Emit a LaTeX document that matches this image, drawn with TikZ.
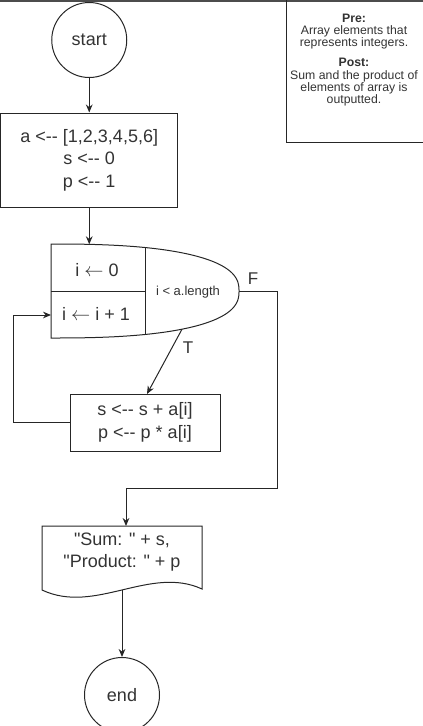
\documentclass[tikz,border=0pt]{standalone}
\usepackage{fontspec}
\newfontfamily\plainfont{Liberation Sans}
\usetikzlibrary{arrows.meta}
\begin{document}
\begin{tikzpicture}[x=0.75pt,y=-0.75pt,
  line/.style={draw=black!85, line width=0.75pt},
  arr/.style={line, -{Stealth[length=6pt,width=5pt]}},
  txt/.style={text=black!80, font=\plainfont\fontsize{13.5}{16.9}\selectfont, align=center, inner sep=0pt},
  small/.style={text=black!80, font=\plainfont\fontsize{9.75}{11}\selectfont, align=center, inner sep=0pt},
  lbl/.style={text=black!80, font=\plainfont\fontsize{12.75}{15}\selectfont, inner sep=0pt},
  notetxt/.style={text=black!80, font=\plainfont\fontsize{9.2}{9.2}\selectfont, align=center, inner sep=0pt},
  term/.style={circle, line, minimum size=56.25pt, inner sep=0pt, text=black!80, font=\plainfont\fontsize{13.5}{16.5}\selectfont},
  procbox/.style={rectangle, line, inner sep=0pt, text=black!80, font=\plainfont\fontsize{13.5}{16.9}\selectfont, align=center}
]
\useasboundingbox (0,0) rectangle (423,726);
\fill[black!70] (0,0) rectangle (423,1.6);

% note box
\node[rectangle, line, minimum width=105pt, minimum height=108pt, inner sep=0pt] (note) at (356,70) {};
\node[notetxt] (notetext) at (354,60) {\textbf{Pre:}\\Array elements that\\represents integers.\\[6pt]\textbf{Post:}\\Sum and the product of\\elements of array is\\outputted.};

% start
\node[term] (start) at (89.25,40) {start};

% init
\node[procbox, minimum width=133.1pt, minimum height=70.5pt] (init) at (89.25,160) {a <-{}- [1,2,3,4,5,6]\\s <-{}- 0\\p <-{}- 1};

% loop shape
\draw[line] (51,244) -- plot[domain=89.5:0.5, samples=100] ({51+188*pow(cos(\x),0.8)}, {291-47*pow(sin(\x),0.8)}) -- (239,291) -- plot[domain=0.5:89.5, samples=100] ({51+188*pow(cos(\x),0.8)}, {291+47*pow(sin(\x),0.8)}) -- (51,338) -- cycle;
\draw[line] (145,247.5) -- (145,334.5);
\draw[line] (51,291) -- (145,291);
\coordinate (loopin) at (89.25,244.3);
\coordinate (tip) at (239,291);
\coordinate (tstart) at (182,329.2);
\coordinate (backin) at (51,315);
\node[txt] (iinit) at (97,270) {i $\leftarrow$ 0};
\node[txt] (iinc) at (96,314) {i $\leftarrow$ i + 1};
\node[small] (cond) at (188,292) {i < a.length};

% body
\node[procbox, minimum width=112.5pt, minimum height=42.75pt] (body) at (145,422.5) {s <-{}- s + a[i]\\p <-{}- p * a[i]};
\coordinate (tend) at (147,394);

% output
\draw[line] (42,526) -- (202,526) -- (202,589) .. controls (150,565) and (95,615) .. (42,590) -- cycle;
\node[txt] (outtxt) at (122,552) {"Sum: " + s,\\"Product: " + p};
\coordinate (outin) at (126,526);
\coordinate (outbot) at (122,590);

% end
\node[term] (end) at (122,695) {end};

% connectors
\draw[arr] (start.south) -- (init.north);
\draw[arr] (init.south) -- (loopin);
\coordinate (fcorner) at (277,488);
\draw[arr] (tip) -| (fcorner) -| (outin);
\draw[arr] (tstart) -- (tend);
\coordinate (backcorner) at (13,315);
\draw[arr] (body.west) -| (backcorner) -- (backin);
\draw[arr] (outbot) -- (end.north);

\node[lbl] (F) at (253,279) {F};
\node[lbl] (T) at (188,348) {T};
\end{tikzpicture}
\end{document}
